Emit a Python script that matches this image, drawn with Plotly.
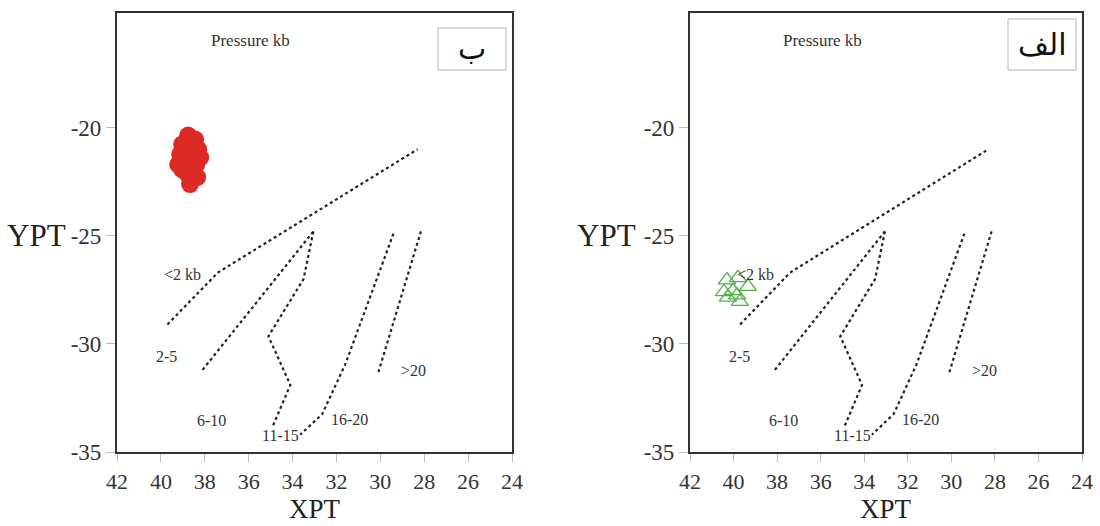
import plotly.graph_objects as go

# ---- data ----
# pressure boundary lines (XPT, YPT)
line_lt2_x = [39.7, 37.4, 28.3]
line_lt2_y = [-29.1, -26.7, -21.0]
line_2_5_x = [38.1, 33.05]
line_2_5_y = [-31.2, -24.8]
line_6_10_x = [33.05, 33.5, 35.1, 34.1, 34.9]
line_6_10_y = [-24.8, -27.0, -29.65, -31.9, -33.8]
line_11_15_x = [29.4, 31.6, 32.65, 33.65]
line_11_15_y = [-24.9, -30.95, -33.25, -34.2]
line_16_20_x = [28.15, 30.1]
line_16_20_y = [-24.8, -31.35]
boundary_lines = [
    (line_lt2_x, line_lt2_y),
    (line_2_5_x, line_2_5_y),
    (line_6_10_x, line_6_10_y),
    (line_11_15_x, line_11_15_y),
    (line_16_20_x, line_16_20_y),
]

# field labels
field_labels = ["<2 kb", "2-5", "6-10", "11-15", "16-20", ">20"]
field_label_x = [39.0, 39.75, 37.7, 34.55, 31.4, 28.5]
field_label_y = [-26.8, -30.6, -33.55, -34.25, -33.5, -31.25]

# samples: panel "ب" (red) and panel "الف" (green)
red_x = [38.76, 38.44, 39.03, 38.30, 39.12, 38.58, 38.94, 38.39, 39.21,
         38.76, 38.35, 38.67, 39.03, 38.21, 38.85]
red_y = [-20.37, -20.55, -20.78, -21.01, -21.24, -21.24, -21.70, -21.70,
         -21.70, -22.16, -22.29, -22.61, -21.93, -21.38, -21.01]
green_x = [40.30, 39.80, 39.34, 40.03, 40.26, 39.71, 39.84, 40.44]
green_y = [-27.05, -26.95, -27.35, -27.55, -27.85, -28.05, -27.75, -27.60]

x_ticks = [42, 40, 38, 36, 34, 32, 30, 28, 26, 24]
x_tick_labels = ["42", "40", "38", "36", "34", "32", "30", "28", "26", "24"]
y_ticks = [-35, -30, -25, -20]
y_tick_labels = ["-35", "-30", "-25", "-20"]
panel_titles = ["ب", "الف"]

# ---- figure ----
fig = go.Figure()
SERIF = "Liberation Serif"

panels = [("x", "y", red_x, red_y, "red"), ("x2", "y2", green_x, green_y, "green")]
for xa, ya, sx, sy, kind in panels:
    for lx, ly in boundary_lines:
        fig.add_trace(go.Scatter(x=lx, y=ly, mode="lines", xaxis=xa, yaxis=ya,
                                 line=dict(color="#222222", width=2.2, dash="dot"),
                                 showlegend=False, hoverinfo="skip"))
    if kind == "red":
        fig.add_trace(go.Scatter(x=sx, y=sy, mode="markers", xaxis=xa, yaxis=ya,
                                 marker=dict(symbol="circle", size=18, color="#dc2b24",
                                             line=dict(width=0)),
                                 showlegend=False))
    else:
        fig.add_trace(go.Scatter(x=sx, y=sy, mode="markers", xaxis=xa, yaxis=ya,
                                 marker=dict(symbol="triangle-up-open", size=15,
                                             color="#4fb04a", line=dict(width=1.3)),
                                 showlegend=False))
    for t, lxv, lyv in zip(field_labels, field_label_x, field_label_y):
        fig.add_annotation(x=lxv, y=lyv, xref=xa, yref=ya, text=t, showarrow=False,
                           font=dict(family=SERIF, size=16, color="#333"))
    fig.add_annotation(x=35.9, y=-15.95, xref=xa, yref=ya, text="Pressure kb",
                       showarrow=False, font=dict(family=SERIF, size=17, color="#333"))

axis_common = dict(range=[42, 24], tickvals=x_ticks, ticktext=x_tick_labels,
                   ticks="outside", ticklen=8, automargin=False,
                   tickcolor="#bbbbbb", tickwidth=1, showline=True, mirror=True,
                   linecolor="#333333", linewidth=2.2, showgrid=False, zeroline=False,
                   tickfont=dict(family=SERIF, size=22, color="#333"))
yaxis_common = dict(range=[-35, -14.7], tickvals=y_ticks, ticktext=y_tick_labels,
                    ticks="outside", ticklen=9, automargin=False,
                    tickcolor="#bbbbbb", tickwidth=1, showline=True, mirror=True,
                    linecolor="#333333", linewidth=2.2, showgrid=False, zeroline=False,
                    tickfont=dict(family=SERIF, size=23, color="#333"))

W, H = 1100, 526
dy = [(526 - 452) / H, (526 - 13) / H]
fig.update_layout(
    width=W, height=H, margin=dict(l=0, r=0, t=0, b=0, autoexpand=False),
    plot_bgcolor="white", paper_bgcolor="white", showlegend=False,
    xaxis=dict(domain=[117 / W, 512 / W], anchor="y", **axis_common),
    yaxis=dict(domain=dy, anchor="x", **yaxis_common),
    xaxis2=dict(domain=[690 / W, 1082 / W], anchor="y2", **axis_common),
    yaxis2=dict(domain=dy, anchor="x2", **yaxis_common),
)

# axis titles
for cx in [(117 + 512) / 2, (690 + 1082) / 2]:
    fig.add_annotation(x=cx / W, y=(526 - 509) / H, xref="paper", yref="paper",
                       text="XPT", showarrow=False, xanchor="center", yanchor="middle",
                       font=dict(family=SERIF, size=27, color="#222"))
for rx, ya in [(68, "y"), (638, "y2")]:
    fig.add_annotation(x=rx / W, y=-25, xref="paper", yref=ya, text="YPT",
                       showarrow=False, xanchor="right", yanchor="middle",
                       font=dict(family=SERIF, size=31, color="#222"))

# panel title boxes
boxes = [(438, 506, 28, 70), (1008, 1076, 19, 70)]
for (x0, x1, y0, y1), t in zip(boxes, panel_titles):
    fig.add_shape(type="rect", xref="paper", yref="paper",
                  x0=x0 / W, x1=x1 / W, y0=(H - y1) / H, y1=(H - y0) / H,
                  line=dict(color="#b5b5b5", width=1), fillcolor="white")
    fig.add_annotation(x=(x0 + x1) / 2 / W, y=(H - (y0 + y1) / 2) / H,
                       xref="paper", yref="paper", text=t, showarrow=False,
                       xanchor="center", yanchor="middle",
                       font=dict(family="DejaVu Sans", size=30, color="#111"))

fig.write_html("out.html", config={"displayModeBar": False},
               post_script="document.body.style.margin='0';"
                           "document.body.style.overflow='hidden';")
